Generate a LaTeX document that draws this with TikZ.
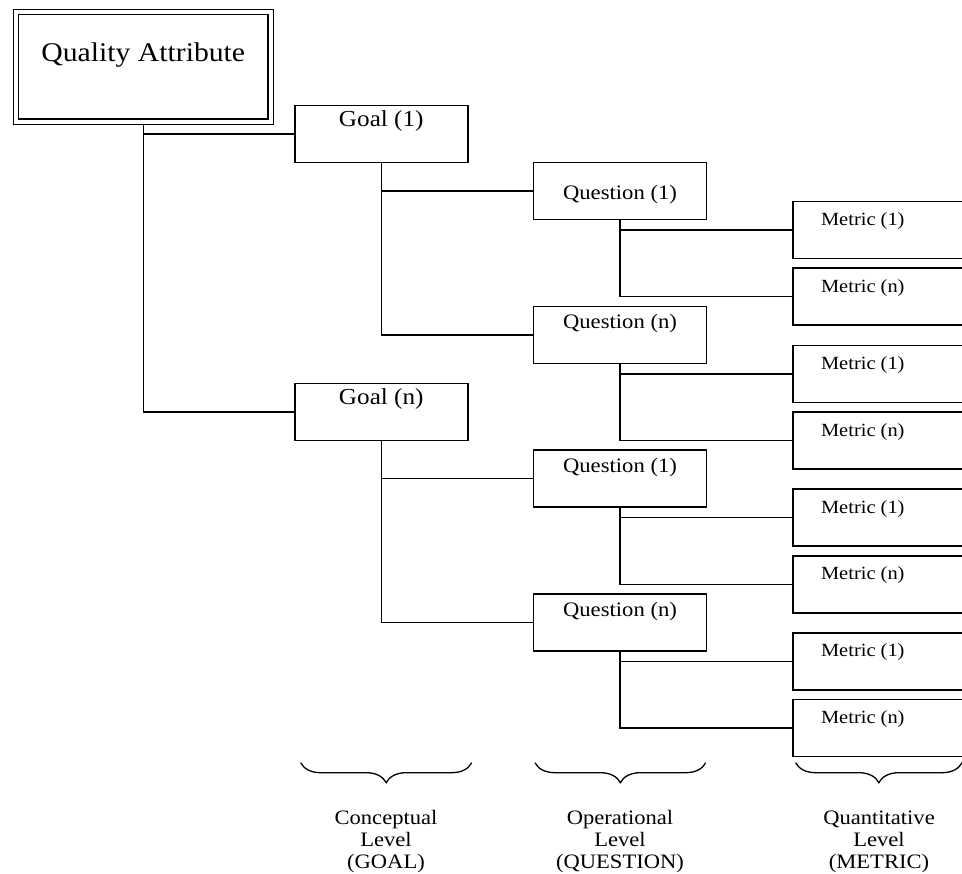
\documentclass[tikz,border=0pt]{standalone}
\usepackage{fontspec}
\setmainfont{Liberation Serif}[FakeStretch=1.1]
\usetikzlibrary{decorations.pathreplacing}
\begin{document}
\begin{tikzpicture}[x=1pt,y=-1pt,
  every label/.style={inner sep=0pt, anchor=base},
  box/.style={draw, line width=1.4pt, inner sep=0pt,
    minimum width=173pt, minimum height=57pt},
  goal/.style={box,
    label={[font=\fontsize{22.9}{26}\selectfont, yshift=-22pt]north:#1}},
  question/.style={box,
    label={[font=\fontsize{20.6}{24}\selectfont, yshift=-23pt]north:#1}},
  questionmid/.style={box,
    label={[font=\fontsize{20.6}{24}\selectfont, yshift=-37.3pt]north:#1}},
  metric/.style={box, minimum width=197pt,
    label={[font=\fontsize{18.6}{22}\selectfont, xshift=70.5pt, yshift=-24.6pt]north west:#1}},
  link/.style={draw, line width=1.4pt},
  levelbrace/.style={draw, line width=1.3pt,
    decorate, decoration={brace, amplitude=20pt, mirror}},
  level/.style={inner sep=0pt, anchor=base, align=center,
    font=\fontsize{20.5}{22}\selectfont}
]
\useasboundingbox (0,0) rectangle (962,874);
\clip (0,0) rectangle (962,874);

% top-level attribute, framed with a double rule
\node[draw, double, line width=1.2pt, double distance=4.1pt, outer sep=3.25pt,
  inner sep=0pt, minimum width=254.8pt, minimum height=109.5pt,
  label={[font=\fontsize{27}{30}\selectfont, yshift=12pt]center:Quality Attribute}]
  (qa) at (143.3,67) {};

% goals
\node[goal={Goal (1)}] (g1) at (381.3,134) {};
\node[goal={Goal (n)}] (gn) at (381.3,412) {};

% questions
\node[questionmid={Question (1)}] (q11) at (620,191) {};
\node[question={Question (n)}]    (q1n) at (620,335) {};
\node[question={Question (1)}]    (qn1) at (620,478.7) {};
\node[question={Question (n)}]    (qnn) at (620,622.3) {};

% metrics
\node[metric={Metric (1)}] (m111) at (891.5,230) {};
\node[metric={Metric (n)}] (m11n) at (891.5,296.7) {};
\node[metric={Metric (1)}] (m1n1) at (891.5,374) {};
\node[metric={Metric (n)}] (m1nn) at (891.5,440.7) {};
\node[metric={Metric (1)}] (mn11) at (891.5,517.7) {};
\node[metric={Metric (n)}] (mn1n) at (891.5,584.4) {};
\node[metric={Metric (1)}] (mnn1) at (891.5,661.3) {};
\node[metric={Metric (n)}] (mnnn) at (891.5,728) {};

% tree connectors
\path[link] (qa.south) |- (g1.west);
\path[link] (qa.south) |- (gn.west);
\path[link] (g1.south) |- (q11.west);
\path[link] (g1.south) |- (q1n.west);
\path[link] (gn.south) |- (qn1.west);
\path[link] (gn.south) |- (qnn.west);
\path[link] (q11.south) |- (m111.west);
\path[link] (q11.south) |- (m11n.west);
\path[link] (q1n.south) |- (m1n1.west);
\path[link] (q1n.south) |- (m1nn.west);
\path[link] (qn1.south) |- (mn11.west);
\path[link] (qn1.south) |- (mn1n.west);
\path[link] (qnn.south) |- (mnn1.west);
\path[link] (qnn.south) |- (mnnn.west);

% level braces and captions (anchored on the last line's baseline)
\path[levelbrace] (300.7,762.7) -- (471.7,762.7);
\path[levelbrace] (535,762.7) -- (705.7,762.7);
\path[levelbrace] (795.7,762.7) -- (962,762.7);

\node[level] (lvgoal) at (386,868) {Conceptual\\Level\\(GOAL)};
\node[level] (lvquestion) at (620,868) {Operational\\Level\\(QUESTION)};
\node[level] (lvmetric) at (879,868) {Quantitative\\Level\\(METRIC)};
\end{tikzpicture}
\end{document}
